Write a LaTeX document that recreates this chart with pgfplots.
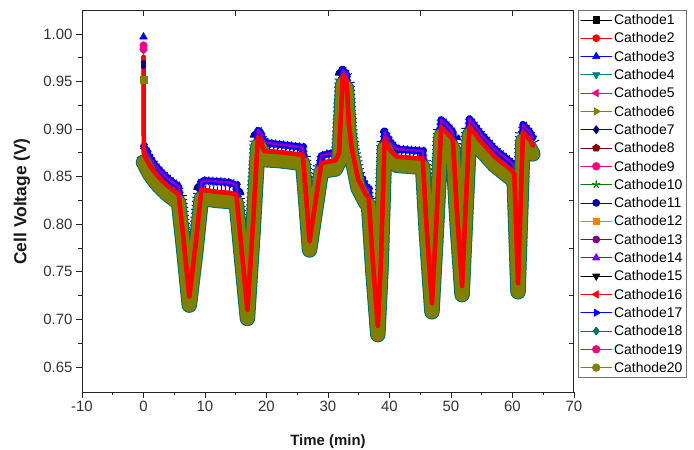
\documentclass[border=0pt]{standalone}
\usepackage{fontspec}
\setmainfont{Liberation Sans}
\usepackage{pgfplots}
\usepackage{pgfplotstable}
\pgfplotsset{compat=1.18}

\definecolor{cteal}{RGB}{0,128,128}
\definecolor{colive}{RGB}{128,128,0}
\definecolor{cnavy}{RGB}{0,0,128}
\definecolor{cwine}{RGB}{128,0,0}
\definecolor{cpink}{RGB}{255,0,128}
\definecolor{cgreen}{RGB}{0,128,0}
\definecolor{croyal}{RGB}{0,0,160}
\definecolor{corange}{RGB}{255,128,0}
\definecolor{cpurple}{RGB}{128,0,128}
\definecolor{cviolet}{RGB}{128,0,255}
\definecolor{cdcyan}{RGB}{0,110,110}

% t = time (min); mid = centre of the bundle (red), hi = upper edge, lo = lower edge
\pgfplotstableread{
t     mid    hi     lo     core
0.00  0.976  0.882  0.865  0.874
0.05  0.874  0.882  0.865  0.874
0.5   0.868  0.876  0.859  0.868
1.0   0.862  0.870  0.853  0.862
2.0   0.853  0.861  0.844  0.853
3.0   0.846  0.854  0.837  0.846
4.0   0.840  0.848  0.831  0.840
5.0   0.835  0.843  0.826  0.835
5.7   0.832  0.840  0.823  0.832
6.5   0.785  0.793  0.776  0.785
7.45  0.724  0.732  0.715  0.724
8.5   0.780  0.788  0.771  0.780
9.4   0.836  0.844  0.827  0.836
9.8   0.836  0.846  0.827  0.836
12.0  0.834  0.845  0.825  0.834
14.0  0.833  0.844  0.824  0.833
15.1  0.831  0.841  0.822  0.831
16.0  0.770  0.778  0.761  0.770
16.9  0.710  0.718  0.701  0.710
17.8  0.800  0.808  0.791  0.800
18.6  0.891  0.899  0.882  0.891
19.0  0.889  0.897  0.880  0.889
19.6  0.877  0.886  0.868  0.877
22.0  0.876  0.884  0.867  0.876
25.9  0.873  0.881  0.864  0.873
26.5  0.825  0.833  0.816  0.825
27.0  0.782  0.790  0.773  0.782
28.0  0.825  0.833  0.816  0.825
28.9  0.864  0.872  0.855  0.864
30.0  0.866  0.874  0.857  0.866
31.2  0.867  0.875  0.858  0.867
31.8  0.875  0.883  0.866  0.875
32.4  0.956  0.962  0.947  0.956
33.0  0.952  0.958  0.943  0.952
33.4  0.905  0.913  0.896  0.905
33.8  0.882  0.890  0.873  0.882
34.9  0.847  0.855  0.838  0.847
36.2  0.831  0.839  0.822  0.831
36.6  0.829  0.837  0.820  0.829
37.3  0.760  0.768  0.751  0.760
38.1  0.693  0.701  0.684  0.693
38.6  0.760  0.768  0.751  0.760
39.2  0.889  0.897  0.880  0.889
40.1  0.878  0.886  0.869  0.878
41.2  0.871  0.879  0.862  0.871
45.4  0.869  0.877  0.860  0.869
46.0  0.800  0.808  0.791  0.800
46.9  0.717  0.725  0.708  0.717
47.6  0.800  0.808  0.791  0.800
48.4  0.902  0.910  0.893  0.902
49.5  0.895  0.903  0.886  0.895
50.3  0.889  0.897  0.880  0.889
51.0  0.810  0.818  0.801  0.810
51.8  0.735  0.743  0.726  0.735
52.4  0.820  0.828  0.811  0.820
53.0  0.903  0.911  0.894  0.903
54.6  0.889  0.897  0.880  0.889
57.1  0.871  0.879  0.862  0.871
59.8  0.857  0.865  0.848  0.857
60.3  0.853  0.861  0.844  0.853
60.9  0.738  0.746  0.729  0.738
61.7  0.897  0.905  0.888  0.897
62.8  0.889  0.897  0.880  0.889
63.3  0.883  0.891  0.874  0.883
}\cellv

\begin{document}
\begin{tikzpicture}
\useasboundingbox (0,0) rectangle (694bp,450bp);
\begin{axis}[
  at={(82bp,58bp)}, anchor=south west,
  width=492bp, height=381bp, scale only axis,
  xmin=-10, xmax=70, ymin=0.6237, ymax=1.0242,
  xtick={-10,0,10,20,30,40,50,60,70}, minor x tick num=1,
  ytick={0.65,0.70,0.75,0.80,0.85,0.90,0.95,1.00}, minor y tick num=1,
  tick align=outside, tick pos=left,
  major tick length=6bp, minor tick length=3.5bp,
  every tick/.style={line width=0.9bp, black!85},
  axis line style={line width=1bp, black!85},
  /pgf/number format/assume math mode=true,
  yticklabel style={/pgf/number format/.cd, fixed, fixed zerofill, precision=2},
  ticklabel style={font=\fontsize{15}{17}\selectfont, text=black!80},
  xlabel={\textbf{Time (min)}}, ylabel={\textbf{Cell Voltage (V)}},
  xlabel style={font=\fontsize{15}{17}\selectfont, text=black!90,
    at={(axis description cs:0.5,-0.131)}, anchor=center},
  ylabel style={font=\fontsize{17.5}{19}\selectfont, text=black!90,
    at={(axis description cs:-0.122,0.5)}, anchor=center},
  every axis plot/.append style={line join=round, line cap=round},
  legend image code/.code={\draw[line width=0.7bp, mark repeat=2, mark phase=2]
    plot coordinates {(0bp,0bp) (15.5bp,0bp) (31bp,0bp)};},
  legend cell align=left,
  legend style={at={(1.0081,1.0026)}, anchor=north west,
    draw=black!55, line width=0.8bp, fill=white,
    inner xsep=2bp, inner ysep=4.5bp, row sep=8.3bp,
    font=\fontsize{14}{16}\selectfont,
    nodes={inner xsep=2bp, inner ysep=0bp, text height=9.7bp, text depth=0.3bp}},
]
% legend entries
\addlegendimage{black, mark=square*, mark size=3.2bp}
\addlegendimage{red, mark=*, mark size=3.5bp}
\addlegendimage{blue, mark=triangle*, mark size=4.2bp}
\addlegendimage{cteal, mark=triangle*, mark size=4.2bp, mark options={rotate=180}}
\addlegendimage{magenta, mark=triangle*, mark size=4.2bp, mark options={rotate=90}}
\addlegendimage{colive, mark=triangle*, mark size=4.2bp, mark options={rotate=-90}}
\addlegendimage{cnavy, mark=diamond*, mark size=4bp}
\addlegendimage{cwine, mark=pentagon*, mark size=3.8bp}
\addlegendimage{cpink, mark=*, mark size=3.8bp}
\addlegendimage{cgreen, mark=star, mark size=3.8bp, mark options={line width=1.2bp}}
\addlegendimage{croyal, mark=*, mark size=3.5bp}
\addlegendimage{corange, mark=square*, mark size=3.2bp}
\addlegendimage{cpurple, mark=*, mark size=3.5bp}
\addlegendimage{cviolet, mark=triangle*, mark size=4.2bp}
\addlegendimage{black, mark=triangle*, mark size=4.2bp, mark options={rotate=180}}
\addlegendimage{red, mark=triangle*, mark size=4.2bp, mark options={rotate=90}}
\addlegendimage{blue, mark=triangle*, mark size=4.2bp, mark options={rotate=-90}}
\addlegendimage{cdcyan, mark=diamond*, mark size=4bp}
\addlegendimage{magenta, mark=*, mark size=3.8bp}
\addlegendimage{colive, mark=*, mark size=3.8bp}
\legend{Cathode1,Cathode2,Cathode3,Cathode4,Cathode5,Cathode6,Cathode7,Cathode8,Cathode9,Cathode10,
  Cathode11,Cathode12,Cathode13,Cathode14,Cathode15,Cathode16,Cathode17,Cathode18,Cathode19,Cathode20}

% series lying inside the bundle
\addplot[black, line width=3bp, forget plot] table[x=t, y=core] {\cellv};
\addplot[cteal, line width=3bp, forget plot] table[x=t, y=core] {\cellv};
\addplot[colive, line width=3bp, forget plot] table[x=t, y=core] {\cellv};
\addplot[cwine, line width=3bp, forget plot] table[x=t, y=core] {\cellv};
\addplot[cpink, line width=3bp, forget plot] table[x=t, y=core] {\cellv};
\addplot[cgreen, line width=3bp, forget plot] table[x=t, y=core] {\cellv};
\addplot[corange, line width=3bp, forget plot] table[x=t, y=core] {\cellv};
\addplot[cpurple, line width=3bp, forget plot] table[x=t, y=core] {\cellv};
\addplot[cviolet, line width=3bp, forget plot] table[x=t, y=core] {\cellv};
\addplot[black, line width=3bp, forget plot] table[x=t, y=core] {\cellv};
\addplot[blue, line width=3bp, forget plot] table[x=t, y=core] {\cellv};
% edges of the bundle
\addplot[cnavy, line width=16bp, line cap=butt, dash pattern=on 1bp off 3bp, forget plot] table[x=t, y=core] {\cellv};
\addplot[croyal, line width=9bp, line cap=butt, dash pattern=on 1bp off 3bp, forget plot] table[x=t, y=hi] {\cellv};
\addplot[blue, line width=7bp, forget plot] table[x=t, y=hi] {\cellv};
\addplot[magenta, line width=2.5bp, opacity=0.6, forget plot] table[x=t, y=hi] {\cellv};
\addplot[magenta, line width=3bp, forget plot] table[x=t, y=core] {\cellv};
\addplot[cdcyan, line width=15.5bp, forget plot] table[x=t, y=lo] {\cellv};
\addplot[colive, line width=13.5bp, forget plot] table[x=t, y=lo] {\cellv};
\addplot[red, line width=4bp, forget plot] table[x=t, y=mid] {\cellv};
\addplot[red, line width=4.5bp, forget plot] table[x=t, y=mid] {\cellv};
% first readings at t = 0 (start-up spike)
\addplot[only marks, cnavy, mark=*, mark size=2.5bp, forget plot] coordinates {(0,0.970) (0,0.966)};
\addplot[only marks, cteal, mark=triangle*, mark size=3.5bp, mark options={rotate=180}, forget plot] coordinates {(0,0.982)};
\addplot[only marks, magenta, mark=*, mark size=3.8bp, forget plot] coordinates {(0,0.988) (0,0.984)};
\addplot[only marks, blue, mark=triangle*, mark size=4.5bp, forget plot] coordinates {(0,0.997)};
\addplot[only marks, colive, mark=square*, mark size=3.5bp, forget plot] coordinates {(0,0.952)};
\addplot[only marks, red, mark=*, mark size=2.5bp, forget plot] coordinates {(0,0.975)};
\end{axis}
% inward ticks of the top and right axes
\begin{axis}[
  at={(82bp,58bp)}, anchor=south west,
  width=492bp, height=381bp, scale only axis,
  xmin=-10, xmax=70, ymin=0.6237, ymax=1.0242,
  axis line style={draw=none},
  xtick={0,15,30,45,60}, ytick={0.675,0.725,0.775,0.825,0.875,0.925,0.975},
  xticklabels={}, yticklabels={},
  tick align=inside, xtick pos=right, ytick pos=right,
  major tick length=5bp,
  every tick/.style={line width=0.9bp, black!85},
]
\end{axis}
\end{tikzpicture}
\end{document}
